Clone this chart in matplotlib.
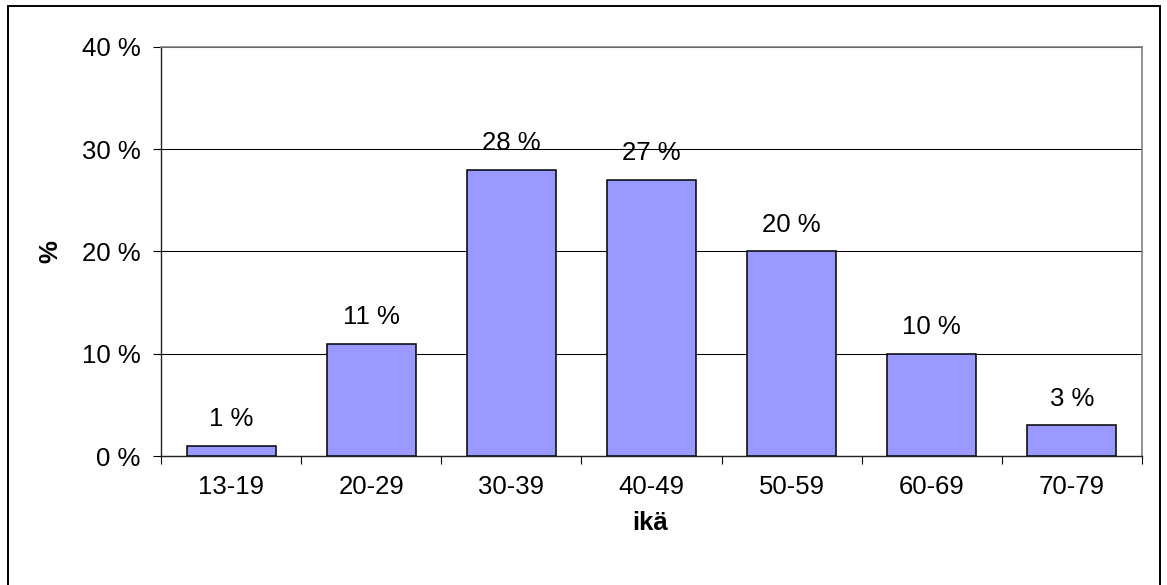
import matplotlib
matplotlib.use("Agg")
import matplotlib.pyplot as plt
from matplotlib.patches import Rectangle
import numpy as np

categories = ["13-19", "20-29", "30-39", "40-49", "50-59", "60-69", "70-79"]
values = [1, 11, 28, 27, 20, 10, 3]
yticks = [0, 10, 20, 30, 40]
ytick_labels = ["0 %", "10 %", "20 %", "30 %", "40 %"]
xlabel = "ikä"
ylabel = "%"

plt.rcParams['font.family'] = ['Liberation Sans', 'DejaVu Sans']
FS = 18.5
W, H = 1167, 585
fig = plt.figure(figsize=(W / 100, H / 100), dpi=100)
ax = fig.add_axes([161 / W, (H - 456) / H, (1142 - 161) / W, (456 - 47) / H])

x = np.arange(len(categories))
bars = ax.bar(x, values, width=0.635, color="#9999FF", edgecolor="black", linewidth=1.1, zorder=3)

ax.set_xlim(-0.5, len(categories) - 0.5)
ax.set_ylim(0, 40)
ax.set_yticks(yticks)
ax.set_yticklabels(ytick_labels, fontsize=FS)
ax.set_xticks(x)
ax.set_xticklabels(categories, fontsize=FS)
ax.set_xticks(np.arange(-0.5, len(categories), 1), minor=True)
ax.tick_params(axis='x', which='major', length=0, pad=14)
ax.tick_params(axis='x', which='minor', length=5.8, width=0.8, direction='out')
ax.tick_params(axis='y', which='major', length=5.8, width=0.8, direction='out', pad=9)

ax.yaxis.grid(True, color='black', linewidth=0.75, zorder=0)
ax.set_axisbelow(True)
for s in ['top', 'right']:
    ax.spines[s].set_color('#808080')
    ax.spines[s].set_linewidth(1.2)
for s in ['left', 'bottom']:
    ax.spines[s].set_color('#222222')
    ax.spines[s].set_linewidth(1.0)

for xi, v in zip(x, values):
    ax.annotate(f"{v} %", (xi, v), xytext=(0, 14), textcoords='offset points',
                ha='center', va='baseline', fontsize=FS)

fig.text(50 / W, 1 - 251.5 / H, ylabel, rotation=90, ha='center', va='center',
         fontsize=FS, fontweight='bold')
fig.text(650 / W, 1 - 530 / H, xlabel, ha='center', va='baseline',
         fontsize=FS, fontweight='bold')

fig.patches.append(Rectangle((8 / W, -0.02), (1160 - 8) / W, 1 - 6 / H + 0.02,
                             transform=fig.transFigure, fill=False,
                             edgecolor='black', linewidth=1.4))

fig.savefig("out.png", dpi=100)
